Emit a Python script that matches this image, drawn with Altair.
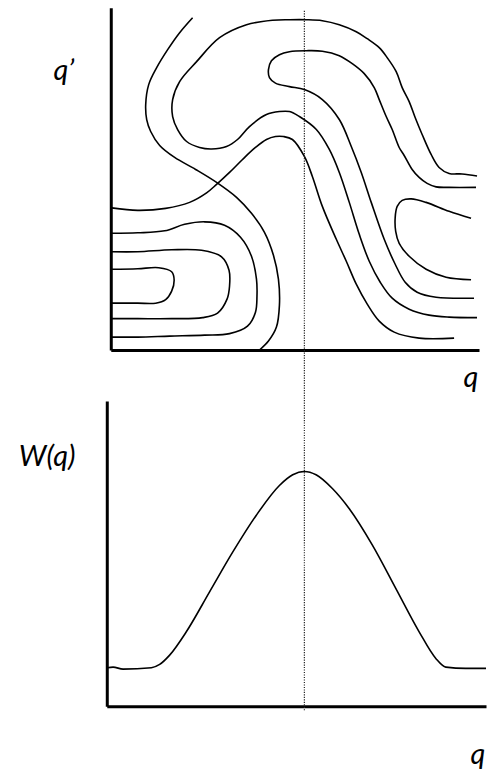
import altair as alt
import pandas as pd

# ---- contour lines in the (q, q') plane -------------------------------------
line_A_q  = [82, 69, 57, 46, 38, 35, 36, 40, 49, 64, 85, 106, 126, 141, 154, 163, 168, 169, 166, 158, 149]
line_A_qp = [333, 318, 301, 283, 266, 246, 231, 219, 205, 193, 181, 168, 153, 137, 118, 95, 71, 45, 23, 9, 0]

line_B_q  = [1, 27, 55, 79, 96, 106, 119, 132, 145, 156, 165, 173, 182, 194, 202, 212, 226, 236, 246, 257, 269, 284, 309, 344]
line_B_qp = [142.5, 140, 142, 148, 157.5, 166, 178, 191, 203, 211, 214, 214, 211, 194, 174, 144, 111, 89, 66, 46, 29, 18, 12, 12]

line_C_q  = [367, 352, 339, 329, 321, 312, 305, 299, 292, 286, 277, 269, 257, 246, 229, 212, 196, 179, 162, 136,
             109, 86, 69, 62, 62, 67, 76, 89, 101, 116, 127, 139, 156, 169, 179, 189, 206, 219, 229, 239,
             249, 259, 270, 282, 299, 319, 339, 367]
line_C_qp = [174.5, 176.5, 177, 183, 196, 216, 233, 249, 263, 279, 293, 303, 312, 319, 326, 330, 331, 331, 330.5, 326,
             313, 289, 269, 251, 234, 221, 209, 203, 201.5, 204, 211, 224, 236, 239, 239, 234, 221, 201, 178, 148,
             116, 89, 68, 52, 41, 35, 33, 32.5]

line_E_q  = [366, 339, 326, 317, 309, 302, 294, 289, 282, 276, 269, 264, 254, 242, 229, 212, 196, 179, 169, 161,
             158, 159, 165, 179, 194, 212, 229, 241, 251, 261, 274, 285, 295, 307, 326, 364]
line_E_qp = [163, 163, 163.5, 167, 173, 181, 195, 203, 221, 234, 251, 263, 277, 287, 295, 299.5, 300, 299, 296, 290,
             281, 273, 267.5, 264, 261, 251, 231, 204, 178, 148, 111, 86, 68, 58, 53, 52]

line_D_q  = [361, 339, 316, 301, 292, 287, 285, 285.5, 289, 299, 316, 336, 361]
line_D_qp = [132, 139, 148, 151.5, 150, 144, 133, 119, 107, 94, 81, 73, 70.5]

line_F_q  = [1, 27, 54, 74, 94, 114, 130, 141, 146, 146.5, 145, 137, 119, 94, 59, 27, 1]
line_F_qp = [117, 117.5, 119.5, 126, 128.5, 125, 113, 94, 71, 54, 38, 24, 16.5, 15, 14, 13, 13]

line_G_q  = [1, 27, 61, 91, 111, 118.5, 119, 116.5, 107, 92, 61, 27, 1]
line_G_qp = [98.5, 98.5, 100.5, 100, 93.5, 80, 64, 51, 37, 32.5, 31.5, 31.5, 31.5]

line_H_q  = [1, 27, 48, 61, 63.5, 61, 55, 45, 27, 1]
line_H_qp = [81, 81.5, 82.5, 78.5, 70, 59, 50.5, 47, 47, 47]

# ---- the weight function W(q) ------------------------------------------------
w_q = [-3.7, 2.3, 12.3, 40.7, 49, 59, 75.7, 99, 122.3, 145.7, 169, 182.3, 194, 205.7, 222.3,
       239, 262.3, 285.7, 309, 325.7, 335.7, 355.7, 376]
w_val = [38.7, 39.3, 37.3, 38.7, 42, 51.3, 74.7, 114.7, 154.7, 191.3, 221.3, 232, 235.3, 232, 218,
         198, 161.3, 118, 74.7, 48, 39.3, 38, 38]
w_peak_q = 194

lines = {
    "A": (line_A_q, line_A_qp), "B": (line_B_q, line_B_qp), "C": (line_C_q, line_C_qp),
    "E": (line_E_q, line_E_qp), "D": (line_D_q, line_D_qp), "F": (line_F_q, line_F_qp),
    "G": (line_G_q, line_G_qp), "H": (line_H_q, line_H_qp),
}
rows = []
for name, (qs, qps) in lines.items():
    for i, (a, b) in enumerate(zip(qs, qps)):
        rows.append({"line": name, "idx": i, "q": a, "qp": b})
contours = pd.DataFrame(rows)
weight = pd.DataFrame({"q": w_q, "W": w_val, "idx": range(len(w_q))})
peak = pd.DataFrame({"q": [w_peak_q]})

FONT = "Lato"
title_style = dict(titleFont=FONT, titleFontStyle="italic", titleFontWeight="normal",
                   titleFontSize=29, titleColor="black", titleAngle=0,
                   titleAlign="left", titleBaseline="alphabetic")
axis_style = dict(labels=False, ticks=False, grid=False, domainColor="black", domainWidth=3)

# ---- upper panel: contours ---------------------------------------------------
top = alt.Chart(contours).mark_line(
    interpolate="catmull-rom", color="black", strokeWidth=1.6
).encode(
    x=alt.X("q:Q", scale=alt.Scale(domain=[0, 369], nice=False, zero=False),
            axis=alt.Axis(title="q", titleX=353, titleY=37, **axis_style, **title_style)),
    y=alt.Y("qp:Q", scale=alt.Scale(domain=[0, 343], nice=False, zero=False),
            axis=alt.Axis(title="q\u2019", titleX=-58, titleY=72, **axis_style, **title_style)),
    detail="line:N",
    order="idx:Q",
).properties(width=369, height=343)

# ---- lower panel: W(q) -------------------------------------------------------
x_low = alt.X("q:Q", scale=alt.Scale(domain=[-4, 376], range=[-4, 376], nice=False, zero=False),
              axis=alt.Axis(title="q", titleX=360, titleY=57, **axis_style, **title_style))

w_line = alt.Chart(weight).mark_line(
    interpolate="monotone", color="black", strokeWidth=1.6
).encode(
    x=x_low,
    y=alt.Y("W:Q", scale=alt.Scale(domain=[0, 306], nice=False, zero=False),
            axis=alt.Axis(title="W(q)", titleX=-88.7, titleY=65, offset=4, **axis_style, **title_style)),
    order="idx:Q",
)

# dotted marker through the maximum of W, spanning both panels
marker = alt.Chart(peak).mark_rule(
    color="#222222", strokeWidth=1.2, strokeDash=[1.2, 1.3]
).encode(
    x=alt.X("q:Q"),
    y=alt.value(-391),
    y2=alt.value(310),
)

bottom = alt.layer(w_line, marker).properties(width=376, height=306)

chart = alt.vconcat(top, bottom, spacing=51, bounds="flush").properties(
    padding={"left": 18, "top": 7, "right": 0, "bottom": 0},
    background="white",
).configure_view(stroke=None)

chart.save("out.html", embed_options={"renderer": "svg", "actions": False})
